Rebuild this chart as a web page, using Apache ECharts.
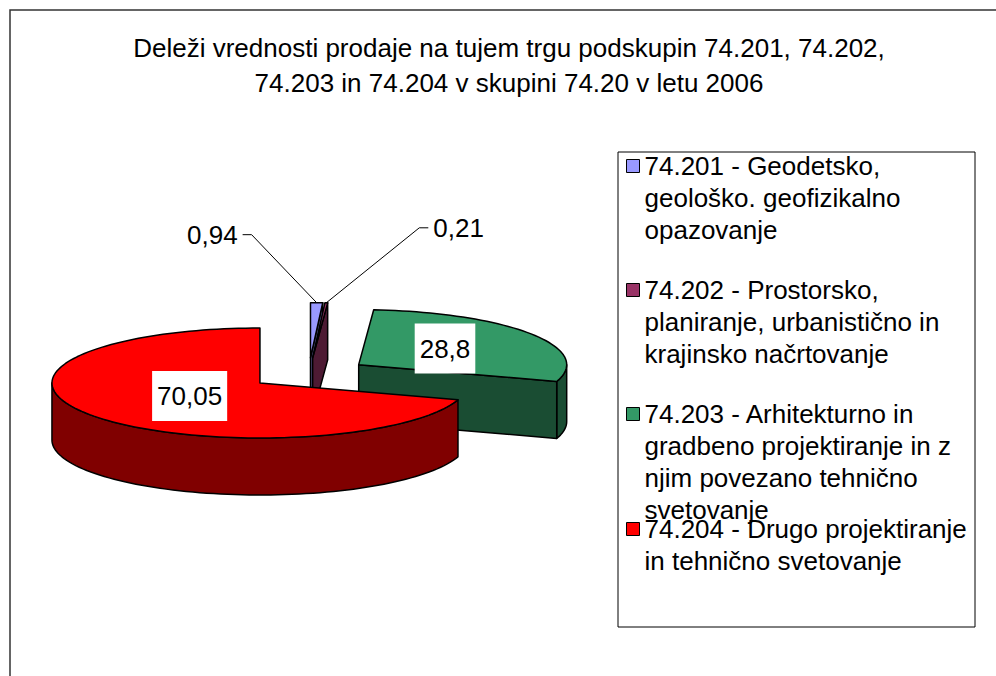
<!DOCTYPE html>
<html>
<head>
<meta charset="utf-8">
<script src="https://cdn.jsdelivr.net/npm/echarts@6/dist/echarts.min.js"></script>
<style>
  html, body { margin: 0; padding: 0; background: #fff; }
  #chart { width: 996px; height: 676px; }
</style>
</head>
<body>
<div id="chart"></div>
<script>
var titleText = 'Deleži vrednosti prodaje na tujem trgu podskupin 74.201, 74.202,\n74.203 in 74.204 v skupini 74.20 v letu 2006';
var categories = [
	'74.201 - Geodetsko,\ngeološko. geofizikalno\nopazovanje',
	'74.202 - Prostorsko,\nplaniranje, urbanistično in\nkrajinsko načrtovanje',
	'74.203 - Arhitekturno in\ngradbeno projektiranje in z\nnjim povezano tehnično\nsvetovanje',
	'74.204 - Drugo projektiranje\nin tehnično svetovanje'
];
var shares = [0.94, 0.21, 28.8, 70.05];

// styling
var topColors = ['#9999FF', '#993366', '#339966', '#FF0000'];
var sideColors = ['#4D4D80', '#4D1A33', '#1A4D33', '#800000'];
var FONT = "'Liberation Sans', Arial, sans-serif";

// 3d pie geometry (orthographic, tilted)
var pie = { cx: 308.7, cy: 373.6, rx: 208, ry: 55, depth: 57, explode: 0.29 };
var leaderOffsets = [[-65, -68], [93, -75]];
var legendFirstLine = [166, 290, 414, 529];
var LEGEND_LH = 32;

var total = shares.reduce(function(a, b) { return a + b; }, 0);

function pt(ax, ay, deg, r) {
	var t = deg * Math.PI / 180;
	return [ax + r * pie.rx * Math.sin(t), ay - r * pie.ry * Math.cos(t)];
}

function fmt(v) {
	return String(v).replace('.', ',');
}

function renderSlice(params, api) {
	var i = params.seriesIndex;
	var before = 0;
	for (var k = 0; k < i; k++) before += shares[k];
	var a0 = before / total * 360;
	var a1 = a0 + api.value(0) / total * 360;
	var mid = (a0 + a1) / 2;
	var apex = pt(pie.cx, pie.cy, mid, pie.explode);
	var d = pie.depth;

	function arc(from, to) {
		var pts = [];
		var n = Math.max(2, Math.ceil((to - from) / 2));
		for (var s = 0; s <= n; s++) {
			pts.push(pt(apex[0], apex[1], from + (to - from) * s / n, 1));
		}
		return pts;
	}
	var lineStyle = { stroke: '#000', lineWidth: 1.5, lineJoin: 'round' };
	var children = [];

	// outer wall, front half only
	var w0 = Math.max(a0, 90), w1 = Math.min(a1, 270);
	if (w1 > w0) {
		var upper = arc(w0, w1);
		var lower = upper.map(function(p) { return [p[0], p[1] + d]; }).reverse();
		children.push({
			type: 'polygon',
			shape: { points: upper.concat(lower) },
			style: Object.assign({ fill: sideColors[i] }, lineStyle)
		});
	}
	// radial walls
	function wall(deg) {
		var p = pt(apex[0], apex[1], deg, 1);
		return {
			type: 'polygon',
			shape: { points: [apex, p, [p[0], p[1] + d], [apex[0], apex[1] + d]] },
			style: Object.assign({ fill: sideColors[i] }, lineStyle)
		};
	}
	if (a0 > 180 && a0 < 360) children.push(wall(a0));
	if (a1 > 0 && a1 < 180) children.push(wall(a1));

	// top face
	children.push({
		type: 'polygon',
		shape: { points: [apex].concat(arc(a0, a1)) },
		style: Object.assign({ fill: topColors[i] }, lineStyle)
	});

	// label
	var label = fmt(api.value(0));
	if (api.value(0) >= 5) {
		var lp = pt(apex[0], apex[1], mid, 0.46);
		children.push({
			type: 'text',
			style: {
				text: label, x: lp[0] + 7, y: lp[1] - 2, align: 'center', verticalAlign: 'middle',
				font: '26px ' + FONT, fill: '#000', backgroundColor: '#fff',
				padding: [12, 5, 12, 5], lineHeight: 26
			}
		});
	} else {
		var small = 0;
		for (var k2 = 0; k2 < i; k2++) if (shares[k2] < 5) small++;
		var off = leaderOffsets[small];
		var m = pt(apex[0], apex[1], mid, 1);
		var elbow = [m[0] + off[0], m[1] + off[1]];
		var side = off[0] < 0 ? -1 : 1;
		var end = [elbow[0] + side * 9, elbow[1]];
		children.push({
			type: 'polyline',
			shape: { points: [m, elbow, end] },
			style: { stroke: '#000', lineWidth: 1, fill: null }
		});
		children.push({
			type: 'text',
			style: {
				text: label, x: end[0] + side * 5, y: end[1],
				align: side < 0 ? 'right' : 'left', verticalAlign: 'middle',
				font: '26px ' + FONT, fill: '#000'
			}
		});
	}
	return { type: 'group', children: children };
}

var chart = echarts.init(document.getElementById('chart'), null, { renderer: 'svg' });

var option = {
	animation: false,
	backgroundColor: '#fff',
	title: {
		text: titleText,
		left: 509,
		top: 30,
		padding: 0,
		textAlign: 'center',
		textStyle: {
			fontFamily: FONT,
			fontSize: 26,
			fontWeight: 'normal',
			color: '#000',
			lineHeight: 35
		}
	},
	// one legend per entry; leading blank lines keep the icon beside the first line
	legend: categories.map(function(name, i) {
		var lines = name.split('\n').length;
		return {
			data: [name],
			orient: 'vertical',
			left: 626,
			top: legendFirstLine[i] - (2 * lines - 1) * LEGEND_LH / 2,
			padding: 0,
			icon: 'rect',
			itemWidth: 13,
			itemHeight: 13,
			selectedMode: false,
			itemStyle: { borderColor: '#000', borderWidth: 1 },
			formatter: function(n) {
				return new Array(lines).join('\n') + n;
			},
			textStyle: {
				fontFamily: FONT,
				fontSize: 26,
				color: '#000',
				lineHeight: LEGEND_LH
			}
		};
	}),
	graphic: [{
		type: 'rect',
		shape: { x: 10, y: 10, width: 1000, height: 700 },
		style: { fill: 'none', stroke: '#333', lineWidth: 1.5 },
		z: -10
	}, {
		type: 'rect',
		shape: { x: 618, y: 152, width: 357, height: 475 },
		style: { fill: '#fff', stroke: '#000', lineWidth: 1 },
		z: -5
	}],
	series: categories.map(function(name, i) {
		return {
			name: name,
			type: 'custom',
			coordinateSystem: 'none',
			renderItem: renderSlice,
			itemStyle: { color: topColors[i] },
			data: [[shares[i]]]
		};
	})
};

chart.setOption(option);
</script>
</body>
</html>
